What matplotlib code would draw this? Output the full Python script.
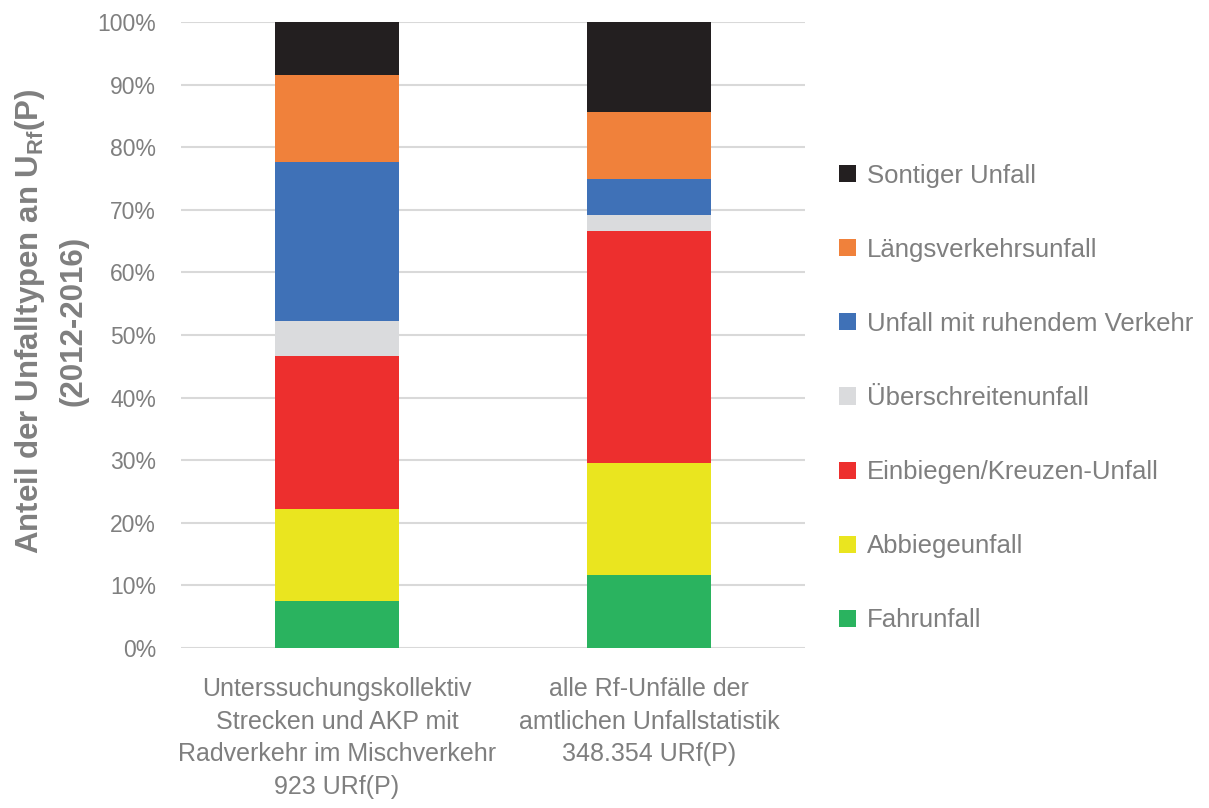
import numpy as np
import matplotlib
matplotlib.use("Agg")
import matplotlib.pyplot as plt

FONT = "Liberation Sans"
plt.rcParams["font.family"] = [FONT, "DejaVu Sans"]
plt.rcParams["mathtext.fontset"] = "custom"
plt.rcParams["mathtext.rm"] = FONT + ":bold"
plt.rcParams["mathtext.bf"] = FONT + ":bold"

GRAY = "#7f7f7f"

categories = [
    "Unterssuchungskollektiv\nStrecken und AKP mit\nRadverkehr im Mischverkehr\n923 URf(P)",
    "alle Rf-Unfälle der\namtlichen Unfallstatistik\n348.354 URf(P)",
]
series_names = [
    "Fahrunfall",
    "Abbiegeunfall",
    "Einbiegen/Kreuzen-Unfall",
    "Überschreitenunfall",
    "Unfall mit ruhendem Verkehr",
    "Längsverkehrsunfall",
    "Sontiger Unfall",
]
# shares in percent, per category
fahr = [7.5, 11.6]
abbiege = [14.7, 18.0]
einbiegen = [24.4, 37.0]
ueberschreiten = [5.6, 2.5]
ruhend = [25.4, 5.9]
laengs = [14.0, 10.7]
sonstig = [8.4, 14.3]
colors = ["#2ab35f", "#eae51f", "#ed2f2e", "#dadbdd", "#3f71b7", "#f0813b", "#231f20"]

values = [fahr, abbiege, einbiegen, ueberschreiten, ruhend, laengs, sonstig]

fig = plt.figure(figsize=(12.09, 8.08), dpi=100)
ax = fig.add_axes([181 / 1209, 1 - 648 / 808, (805 - 181) / 1209, (648 - 22) / 808])

x = np.arange(len(categories))
bottom = np.zeros(len(categories))
handles = []
for name, vals, col in zip(series_names, values, colors):
    b = ax.bar(x, vals, 0.4, bottom=bottom, color=col, label=name, zorder=3)
    handles.append(b)
    bottom += np.array(vals)

ax.set_xlim(-0.5, 1.5)
ax.set_ylim(0, 100)
ax.set_yticks(np.arange(0, 101, 10))
ax.set_yticklabels([f"{v}%" for v in range(0, 101, 10)], fontsize=16.5, color=GRAY)
ax.set_xticks(x)
ax.set_xticklabels(categories, fontsize=18, color=GRAY, linespacing=1.45)
ax.tick_params(axis="x", length=0, pad=21)
ax.tick_params(axis="y", length=0, pad=18)
ax.grid(axis="y", color="#d9d9d9", linewidth=1.5, zorder=0)
for s in ax.spines.values():
    s.set_visible(False)

ax.set_ylabel("Anteil der Unfalltypen an U$_{\\mathrm{Rf}}$(P)\n(2012-2016)",
              fontsize=22.5, fontweight="bold", color=GRAY, linespacing=1.5)
ax.yaxis.set_label_coords(-0.149, 0.522)

leg = ax.legend(handles[::-1], series_names[::-1], loc="center left",
                bbox_to_anchor=(839 / 1209, 1 - 398 / 808), bbox_transform=fig.transFigure,
                frameon=False, fontsize=18.5, labelcolor=GRAY, handlelength=0.65,
                handleheight=0.65, handletextpad=0.45, labelspacing=1.95,
                borderaxespad=0, borderpad=0)

fig.savefig("out.png", dpi=100)
